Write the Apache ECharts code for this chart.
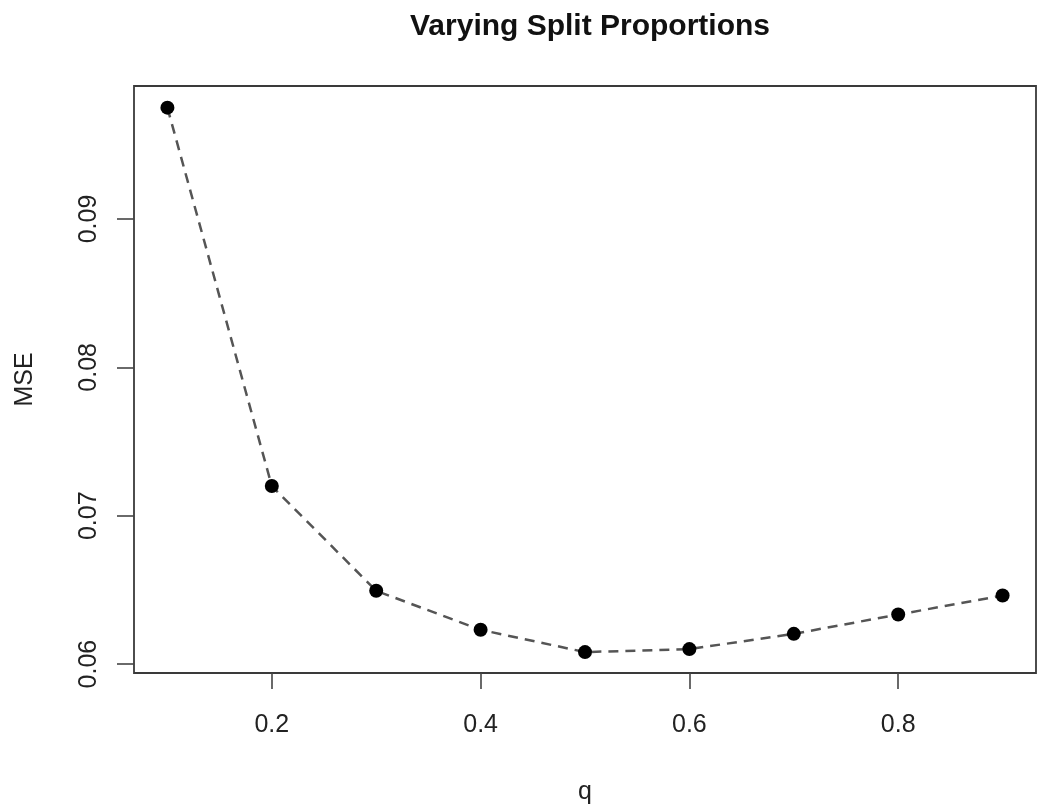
<!DOCTYPE html>
<html>
<head>
<meta charset="utf-8">
<script src="https://cdn.jsdelivr.net/npm/echarts@6/dist/echarts.min.js"></script>
<style>html,body{margin:0;padding:0;background:#fff}#c{width:1050px;height:811px}</style>
</head>
<body>
<div id="c"></div>
<script>
const qValues = [0.1, 0.2, 0.3, 0.4, 0.5, 0.6, 0.7, 0.8, 0.9];
const mseValues = [0.0975, 0.0720, 0.06494, 0.06231, 0.06081, 0.06101, 0.06204, 0.06334, 0.06462];
const xTicks = [0.2, 0.4, 0.6, 0.8];
const yTicks = [0.06, 0.07, 0.08, 0.09];

const font = 'Liberation Sans, Arial, Helvetica, sans-serif';
const chart = echarts.init(document.getElementById('c'), null, {renderer: 'canvas'});
chart.setOption({
  animation: false,
  backgroundColor: '#fff',
  title: {
    text: 'Varying Split Proportions',
    left: 585, textAlign: 'center', top: 7,
    textStyle: {fontFamily: font, fontSize: 30, fontWeight: 'bold', color: '#111'}
  },
  grid: {left: 134, right: 14, top: 86, bottom: 138, show: true, borderColor: '#3a3a3a', borderWidth: 1.8, containLabel: false, outerBoundsMode: 'none'},
  xAxis: {
    type: 'value', min: 0.068, max: 0.932,
    name: 'q', nameLocation: 'middle', nameGap: 107,
    nameTextStyle: {fontFamily: font, fontSize: 25, color: '#222'},
    axisLine: {show: false},
    axisTick: {show: true, inside: false, length: 16, customValues: xTicks, lineStyle: {color: '#444', width: 1.6}},
    axisLabel: {customValues: xTicks, margin: 40, fontFamily: font, fontSize: 25, color: '#222', formatter: v => v.toFixed(1)},
    splitLine: {show: false}
  },
  yAxis: {
    type: 'value', min: 0.0594, max: 0.09896,
    name: 'MSE', nameLocation: 'middle', nameGap: 96, nameRotate: 90,
    nameTextStyle: {fontFamily: font, fontSize: 25, color: '#222'},
    axisLine: {show: false},
    axisTick: {show: true, inside: false, length: 17, customValues: yTicks, lineStyle: {color: '#444', width: 1.6}},
    axisLabel: {customValues: yTicks, rotate: 90, margin: 32, fontFamily: font, fontSize: 25, color: '#222', formatter: v => v.toFixed(2)},
    splitLine: {show: false}
  },
  series: [{
    type: 'line',
    data: qValues.map((q, i) => [q, mseValues[i]]),
    symbol: 'circle', symbolSize: 14,
    itemStyle: {color: '#000'},
    lineStyle: {color: '#555', width: 2.5, type: [10, 7]}
  }]
});
</script>
</body>
</html>
